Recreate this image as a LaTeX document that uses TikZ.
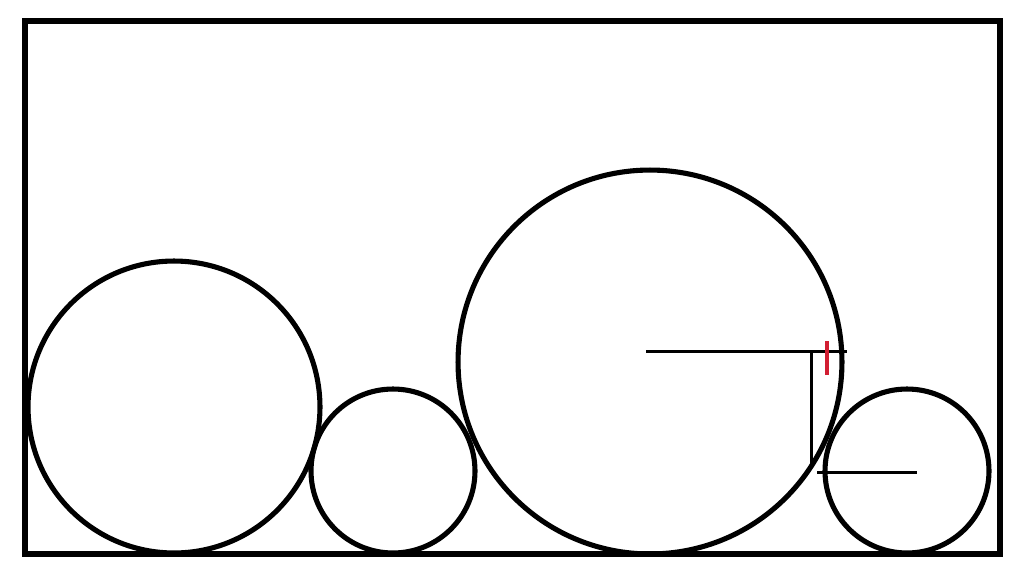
\documentclass[tikz,border=0pt]{standalone}
\usepackage{tikz}
\usetikzlibrary{calc,positioning}
\definecolor{tickred}{RGB}{210,30,50}

\begin{document}
\begin{tikzpicture}[x=0.02cm, y=-0.02cm, line width=2.9pt,
        ball/.style={draw, circle, inner sep=0pt, outer sep=0pt},
        thin line/.style={line width=1.7pt}]
        \useasboundingbox (0,0) rectangle (1024,569);
        \draw[line width=3.3pt] (25,21) rectangle (1000,554);
        \node[ball, minimum size=5.84cm] (left) at (174,407) {};
        \node[ball, minimum size=3.28cm] (small) at (393,471) {};
        \node[ball, minimum size=7.68cm] (big) at (650,362) {};
        \node[ball, minimum size=3.28cm] (right) at (907,471) {};

        \coordinate (a) at (646,351);
        \coordinate (b) at (847,351);
        \coordinate (c) at (811,351);
        \coordinate (d) at (811,467);
        \coordinate (e) at (817,472);
        \coordinate (f) at (917,472);
        \draw[thin line] (a) -- (b);
        \draw[thin line] (c) -- (d);
        \draw[thin line] (e) -- (f);
        \draw[thin line, line width=2pt, tickred] (827,341) -- (827,375);
    \end{tikzpicture}
\end{document}
